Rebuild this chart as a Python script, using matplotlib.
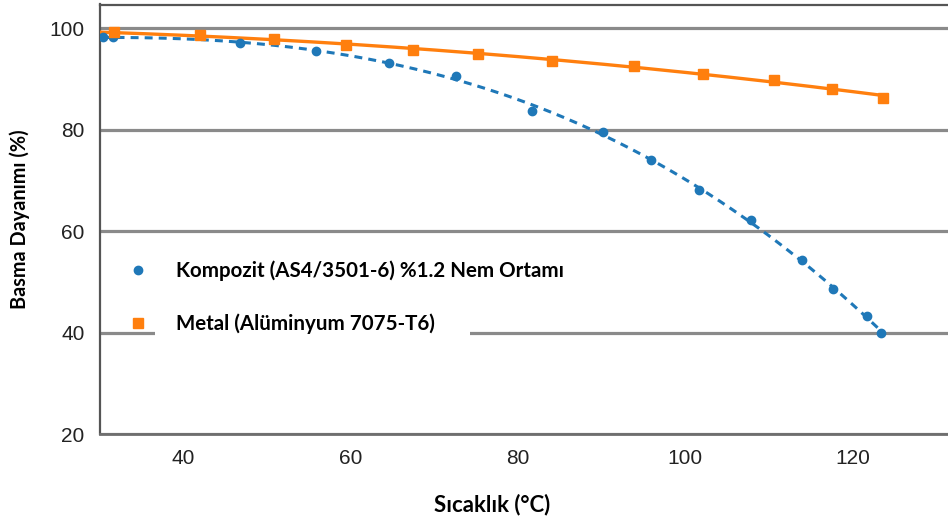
import numpy as np
import matplotlib
matplotlib.use("Agg")
import matplotlib.pyplot as plt
from matplotlib.patches import Rectangle

# ---- data ----
comp_x = [30.3, 31.6, 46.8, 55.8, 64.6, 72.6, 81.7, 90.2, 95.9, 101.6, 107.8, 114.0, 117.7, 121.7, 123.4]
comp_y = [98.2, 98.2, 97.2, 95.6, 93.2, 90.6, 83.7, 79.5, 74.0, 68.1, 62.2, 54.3, 48.6, 43.2, 40.0]
metal_x = [31.7, 41.9, 50.8, 59.4, 67.4, 75.2, 84.1, 93.8, 102.1, 110.6, 117.5, 123.6]
metal_y = [99.2, 98.6, 97.8, 96.8, 95.8, 95.0, 93.6, 92.6, 91.0, 89.9, 88.1, 86.3]
x_ticks = [40, 60, 80, 100, 120]
y_ticks = [20, 40, 60, 80, 100]
comp_label = "Kompozit (AS4/3501-6) %1.2 Nem Ortamı"
metal_label = "Metal (Alüminyum 7075-T6)"
x_title = "Sıcaklık (°C)"
y_title = "Basma Dayanımı (%)"

blue = "#1f78b8"
orange = "#ff7f0e"

fig = plt.figure(figsize=(9.48, 5.25), dpi=100)
ax = fig.add_axes([100 / 948, 1 - 434 / 525, 848 / 948, (434 - 4.5) / 525])
ax.set_xlim(30, 131.4)
ax.set_ylim(20, 104.7)

# grid
ax.set_axisbelow(True)
ax.yaxis.grid(True, color="#8a8a8a", linewidth=2.3)
ax.xaxis.grid(False)

# trend lines from data fits
xc = np.linspace(min(comp_x), max(comp_x), 300)
pc = np.polyfit(comp_x, comp_y, 3)
ax.plot(xc, np.polyval(pc, xc), color=blue, linestyle=(0, (2.6, 2.0)), linewidth=2.2, zorder=3)
xm = np.linspace(ax.get_xlim()[0], max(metal_x), 300)
pm = np.polyfit(metal_x, metal_y, 2)
ax.plot(xm, np.polyval(pm, xm), color=orange, linewidth=2.4, zorder=3)

# markers
ax.plot(comp_x, comp_y, linestyle="none", marker="o", markersize=6, color=blue, zorder=4,
        label=comp_label)
ax.plot(metal_x, metal_y, linestyle="none", marker="s", markersize=7.5, color=orange, zorder=4,
        label=metal_label)

# white mask behind legend on gridline
ax.add_patch(Rectangle((0.065, 0.212), 0.371, 0.04, transform=ax.transAxes,
                       facecolor="white", edgecolor="none", zorder=1))

leg = ax.legend(loc="center left", bbox_to_anchor=(0.033, 0.318), frameon=False,
                borderaxespad=0, borderpad=0, handlelength=1.0, handletextpad=1.35,
                labelspacing=1.55, prop={"family": "Lato", "weight": "bold", "size": 14.8})

# spines
for s in ["top", "left"]:
    ax.spines[s].set_color("#555555")
    ax.spines[s].set_linewidth(1.6)
ax.spines["bottom"].set_color("#6e6e6e")
ax.spines["bottom"].set_linewidth(2.0)
ax.spines["right"].set_visible(False)

ax.set_xticks(x_ticks)
ax.set_yticks(y_ticks)
ax.tick_params(axis="both", length=0, labelsize=15, colors="#222222")
ax.tick_params(axis="y", pad=11)
ax.tick_params(axis="x", pad=11)
for lab in ax.get_xticklabels() + ax.get_yticklabels():
    lab.set_family("Liberation Sans")

ax.set_xlabel(x_title, fontfamily="Lato", fontweight="bold", fontsize=16)
ax.xaxis.set_label_coords(0.462, -0.165)
ax.xaxis.label.set_va("center")
ax.set_ylabel(y_title, fontfamily="Lato", fontweight="bold", fontsize=14.3, labelpad=14)

fig.savefig("out.png", dpi=100)
